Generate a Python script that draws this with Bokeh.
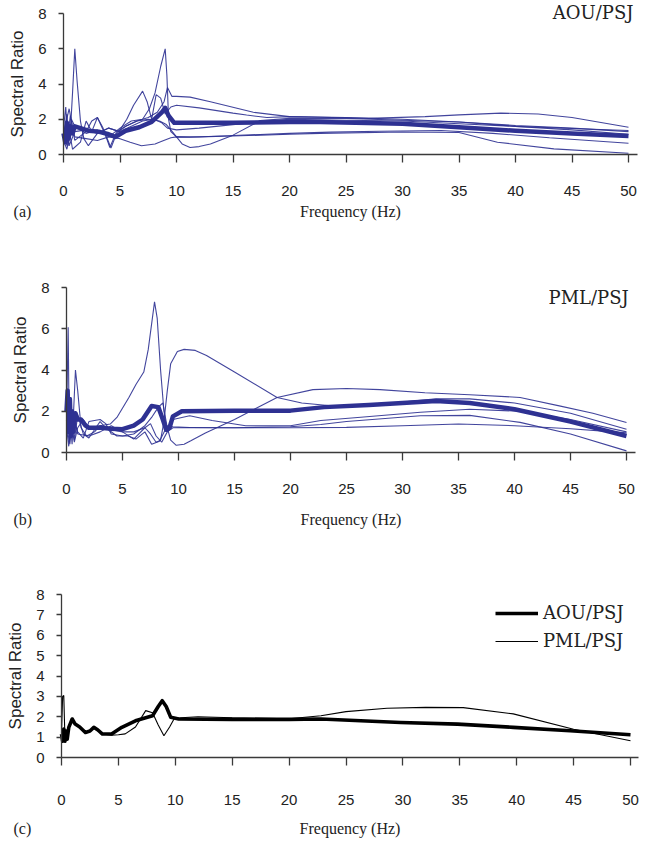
from bokeh.plotting import figure
from bokeh.layouts import column
from bokeh.models import Range1d, FixedTicker, Label, Legend, LegendItem
from bokeh.embed import file_html
from bokeh.resources import INLINE

# ---------------- data: panel (a) AOU/PSJ ----------------
a_mean_f = [0, 0.15, 0.3, 0.45, 0.6, 0.8, 1.0, 1.5, 2.2, 3.1, 4.0, 4.6, 5.5, 6.7, 7.8, 8.7, 9.0, 9.3, 9.8, 11, 15, 20, 22.7, 30, 35, 40, 45, 50]
a_mean_v = [1.2, 0.7, 1.8, 0.9, 1.6, 1.2, 1.6, 1.5, 1.35, 1.3, 1.15, 1.0, 1.35, 1.55, 1.85, 2.4, 2.65, 2.2, 1.8, 1.8, 1.8, 1.85, 1.84, 1.75, 1.55, 1.35, 1.2, 1.05]

a1_f = [0, 0.3, 0.6, 0.8, 1.0, 1.2, 1.5, 1.8, 2.2, 3.0, 4.0, 5.0, 6.0, 7.0, 8.0, 8.7, 9.2, 10, 12, 15, 18, 20, 25, 30, 35, 40, 45, 50]
a1_v = [0.8, 0.3, 1.2, 3.5, 6.0, 4.2, 1.9, 0.9, 0.5, 1.2, 1.5, 1.3, 1.6, 1.9, 2.0, 1.8, 1.5, 1.4, 1.5, 1.7, 1.9, 2.0, 1.95, 1.9, 1.75, 1.6, 1.48, 1.36]

a2_f = [0, 0.2, 0.4, 0.7, 1, 2, 3, 4, 5, 6, 7.0, 7.6, 8.1, 8.6, 9.0, 9.15, 9.3, 9.5, 10, 12, 15, 20, 22.7, 30, 35, 38.4, 43.4, 50]
a2_v = [1.5, 2.7, 0.5, 2.0, 1.6, 1.2, 1.4, 1.0, 1.5, 1.9, 2.0, 2.6, 3.5, 5.0, 6.0, 4.5, 2.0, 1.3, 1.0, 1.0, 1.05, 1.15, 1.2, 1.28, 1.25, 0.7, 0.32, 0.07]

a3_f = [0, 0.3, 0.5, 1, 2, 3, 4, 4.9, 5.6, 6.2, 7.0, 7.4, 7.8, 8.2, 8.6, 9.0, 9.5, 10, 12, 15, 16.2, 18, 20, 25, 30, 35, 40, 45, 50]
a3_v = [1.0, 2.3, 0.5, 1.3, 1.4, 1.2, 1.5, 1.3, 2.0, 2.8, 3.6, 3.0, 2.0, 3.4, 3.2, 2.3, 2.7, 2.8, 2.65, 2.35, 2.24, 2.1, 2.15, 2.1, 2.0, 1.85, 1.6, 1.4, 1.15]

a4_f = [0, 0.5, 1, 2, 2.5, 3, 3.5, 4.1, 4.7, 5.5, 6.5, 7.5, 8.3, 8.9, 9.2, 9.6, 10, 11.2, 13, 16.8, 20, 22.7, 27, 32, 35, 38.7, 42, 45, 50]
a4_v = [1.2, 2.6, 0.8, 1.3, 1.9, 2.1, 1.5, 0.4, 1.3, 1.6, 1.9, 2.1, 2.4, 3.0, 3.8, 3.3, 3.3, 3.26, 3.0, 2.4, 2.15, 2.12, 2.05, 2.15, 2.25, 2.35, 2.3, 2.1, 1.55]

a5_f = [0, 0.3, 0.6, 1, 2, 3, 4, 5, 5.9, 6.9, 8.1, 8.7, 9.5, 10, 11.2, 15, 20, 23.6, 28, 33.4, 38, 43, 50]
a5_v = [1.3, 0.5, 2.2, 1.0, 0.9, 0.8, 1.0, 0.9, 0.7, 0.5, 0.6, 0.75, 0.95, 1.0, 0.98, 1.08, 1.2, 1.27, 1.32, 1.36, 1.2, 0.95, 0.64]

a6_f = [0, 0.4, 0.8, 1.5, 2.0, 2.5, 3.0, 3.5, 3.9, 4.2, 4.7, 5.5, 6.5, 7.5, 8.5, 9.1, 9.5, 10, 10.5, 11.2, 12, 13, 15, 17.4, 20, 25, 30, 35, 40, 45, 50]
a6_v = [0.5, 1.8, 0.3, 0.7, 1.9, 1.3, 2.1, 1.4, 0.85, 0.37, 1.2, 1.6, 1.9, 2.0, 1.9, 1.7, 1.4, 1.0, 0.6, 0.4, 0.45, 0.6, 1.1, 1.93, 2.05, 2.05, 1.95, 1.85, 1.65, 1.5, 1.3]

# ---------------- data: panel (b) PML/PSJ ----------------
b_mean_f = [0, 0.1, 0.2, 0.3, 0.4, 0.5, 0.6, 0.8, 1.0, 1.3, 1.7, 2.0, 3.0, 4.0, 5.0, 6.0, 6.8, 7.6, 8.2, 8.6, 8.9, 9.2, 9.5, 10.3, 15, 20, 23, 27, 30, 33, 36, 40, 45, 50]
b_mean_v = [2.0, 3.0, 1.0, 2.6, 0.8, 2.0, 1.0, 1.9, 1.6, 1.6, 1.3, 1.2, 1.2, 1.15, 1.13, 1.3, 1.6, 2.25, 2.2, 1.6, 1.1, 1.2, 1.75, 2.0, 2.02, 2.03, 2.2, 2.3, 2.4, 2.5, 2.4, 2.1, 1.5, 0.8]

b1_f = [0, 0.2, 0.4, 0.7, 1, 1.5, 2, 3, 3.9, 4.5, 5.57, 6.2, 6.9, 7.3, 7.86, 8.1, 8.4, 8.7, 9.0, 9.5, 11, 15, 20, 22.7, 25, 31.6, 36, 40.5, 45, 50]
b1_v = [1.2, 0.3, 1.5, 0.5, 1.2, 1.6, 1.2, 1.3, 1.38, 1.7, 2.67, 3.3, 3.9, 5.0, 7.3, 6.5, 4.0, 2.0, 1.0, 1.2, 1.21, 1.2, 1.25, 1.36, 1.5, 1.78, 1.8, 1.46, 0.9, 0.08]

b2_f = [0, 0.15, 0.25, 0.5, 1, 1.5, 2, 3, 3.5, 4, 5, 6, 7, 7.6, 8.2, 8.6, 9.0, 9.3, 9.8, 10.5, 11.1, 12.4, 15, 18.8, 22, 25, 28, 32, 36, 40.5, 44, 47, 50]
b2_v = [1.5, 6.07, 0.5, 1.8, 1.0, 0.7, 1.5, 1.6, 1.4, 0.9, 0.8, 0.9, 1.3, 1.7, 2.2, 2.4, 1.2, 0.6, 0.35, 0.4, 0.57, 0.95, 1.6, 2.67, 3.05, 3.1, 3.05, 2.9, 2.8, 2.67, 2.26, 1.9, 1.45]

b3_f = [0, 0.3, 0.5, 0.8, 1.0, 1.3, 1.8, 2.5, 3, 4, 5, 6, 7, 7.5, 8, 8.4, 8.7, 9.0, 9.3, 9.9, 10.5, 11.5, 12.5, 15, 18.8, 21, 23.6, 27, 30, 33, 36, 40, 45, 50]
b3_v = [0.8, 1.8, 0.4, 4.0, 3.0, 1.2, 0.8, 1.0, 1.3, 1.1, 1.0, 1.0, 1.2, 0.9, 0.5, 0.6, 1.5, 3.0, 4.3, 4.9, 5.0, 4.95, 4.7, 3.9, 2.67, 2.4, 2.27, 2.3, 2.45, 2.6, 2.6, 2.4, 1.9, 1.13]

b4_f = [0, 0.3, 0.6, 1, 2, 3, 4, 5, 6, 7, 7.5, 8, 8.5, 9, 9.5, 11, 13, 16, 20, 22.7, 26, 31.6, 36, 40.5, 45, 50]
b4_v = [1.3, 0.4, 1.9, 0.9, 0.8, 1.0, 1.3, 1.0, 0.65, 1.2, 1.4, 0.8, 0.5, 1.0, 1.6, 1.78, 1.55, 1.3, 1.3, 1.55, 1.7, 1.95, 2.1, 2.0, 1.6, 1.0]

b5_f = [0, 0.4, 0.7, 1, 1.5, 2, 2.5, 3, 3.5, 4.5, 5.5, 6.2, 7, 7.6, 8.3, 9, 9.5, 11, 15, 20, 25, 30, 35, 40, 45, 50]
b5_v = [1.0, 2.4, 0.6, 1.8, 0.9, 0.7, 1.1, 1.5, 1.2, 0.8, 0.8, 0.65, 1.0, 0.4, 0.55, 1.3, 1.25, 1.21, 1.2, 1.2, 1.22, 1.3, 1.38, 1.3, 1.15, 0.95]

# ---------------- data: panel (c) averages ----------------
c_aou_f = [0, 0.1, 0.2, 0.3, 0.4, 0.5, 0.64, 0.94, 1.2, 1.6, 2.1, 2.5, 2.84, 3.2, 3.6, 4.4, 5.3, 6.5, 8.0, 8.5, 8.85, 9.2, 9.6, 10.3, 15, 20, 22.8, 29.8, 34.8, 39.7, 44.7, 50]
c_aou_v = [1.15, 0.8, 1.4, 0.8, 1.3, 0.9, 1.48, 1.89, 1.64, 1.5, 1.23, 1.3, 1.48, 1.35, 1.15, 1.15, 1.48, 1.8, 2.05, 2.5, 2.79, 2.5, 1.97, 1.89, 1.87, 1.87, 1.89, 1.72, 1.64, 1.48, 1.31, 1.12]

c_pml_f = [0, 0.1, 0.2, 0.3, 0.5, 0.8, 1.0, 1.5, 2.1, 2.84, 3.6, 4.4, 5.0, 5.6, 6.5, 7.4, 8.0, 8.5, 9.0, 9.5, 9.9, 10.5, 12, 15, 20, 22.8, 25, 28.6, 32, 35.3, 39.7, 45, 50]
c_pml_v = [1.2, 3.0, 3.04, 1.0, 1.3, 1.7, 1.8, 1.5, 1.2, 1.45, 1.15, 1.1, 1.12, 1.16, 1.5, 2.3, 2.2, 1.6, 1.07, 1.5, 1.9, 1.95, 2.0, 1.95, 1.9, 2.05, 2.25, 2.42, 2.46, 2.45, 2.14, 1.39, 0.82]

x_ticks = [0, 5, 10, 15, 20, 25, 30, 35, 40, 45, 50]
y_ticks_ab = [0, 2, 4, 6, 8]
y_ticks_c = [0, 1, 2, 3, 4, 5, 6, 7, 8]

BLUE = "#2E3192"
AXIS = "#3a3a3a"
TICK_FONT = "Liberation Sans"
SERIF = "Liberation Serif"
SLAB = "DejaVu Serif"


def base_fig(height, x0_px, px_per_hz, y0_px, px_per_unit, x_axis_end, y_ticks,
             tick_standoff, label_standoff):
    # the frame fills the whole canvas; axes sit at data 0 and are bounded
    x_start = -x0_px / px_per_hz
    x_end = (651 - x0_px) / px_per_hz
    y_start = -(height - y0_px) / px_per_unit
    y_end = y0_px / px_per_unit
    p = figure(width=651, height=height, x_range=Range1d(x_start, x_end),
               y_range=Range1d(y_start, y_end),
               output_backend="svg", toolbar_location=None,
               min_border=0, min_border_top=0, min_border_bottom=0,
               min_border_left=0, min_border_right=0)
    p.outline_line_color = None
    p.grid.visible = False
    p.background_fill_color = "white"
    p.xaxis.ticker = FixedTicker(ticks=x_ticks)
    p.yaxis.ticker = FixedTicker(ticks=y_ticks)
    p.xaxis.fixed_location = 0
    p.yaxis.fixed_location = 0
    p.xaxis.bounds = (0, x_axis_end)
    p.yaxis.bounds = (0, 8)
    for ax in (p.xaxis, p.yaxis):
        ax.axis_line_color = AXIS
        ax.axis_line_width = 1.3
        ax.major_tick_line_color = AXIS
        ax.major_tick_line_width = 1.3
        ax.major_tick_in = 0
        ax.minor_tick_line_color = None
        ax.major_label_text_font = TICK_FONT
        ax.major_label_text_font_size = "15px"
        ax.major_label_text_color = "#222222"
        ax.axis_label_text_font_style = "normal"
        ax.axis_label_text_color = "#222222"
    p.xaxis.major_tick_out = 8
    p.yaxis.major_tick_out = 5
    p.xaxis.major_label_standoff = tick_standoff
    p.yaxis.major_label_standoff = 12
    p.xaxis.axis_label = "Frequency (Hz)"
    p.xaxis.axis_label_text_font = SERIF
    p.xaxis.axis_label_text_font_size = "16px"
    p.xaxis.axis_label_standoff = label_standoff
    p.yaxis.axis_label = "Spectral Ratio"
    p.yaxis.axis_label_text_font = TICK_FONT
    p.yaxis.axis_label_text_font_size = "17px"
    p.yaxis.axis_label_standoff = 8
    return p


def tag(p, text, x, y):
    p.add_layout(Label(x=x, y=y, text=text, text_font=SERIF, text_font_size="16px",
                       text_align="left", text_baseline="middle", text_color="#222222"))


def station(p, text, x, y):
    p.add_layout(Label(x=x, y=y, text=text, text_font=SLAB, text_font_size="18px",
                       text_align="right", text_baseline="middle", text_color="#222222"))


# ---------------- panel (a) ----------------
pa = base_fig(267, 63, 11.3, 154, 17.6, 50.8, y_ticks_ab, 23, 4)
for f, v in [(a1_f, a1_v), (a2_f, a2_v), (a3_f, a3_v), (a4_f, a4_v), (a5_f, a5_v), (a6_f, a6_v)]:
    pa.line(f, v, line_color=BLUE, line_width=1.1, line_alpha=0.9)
pa.line(a_mean_f, a_mean_v, line_color=BLUE, line_width=4.5, line_join="round")
station(pa, "AOU/PSJ", 50.44, 8.04)
tag(pa, "(a)", -4.42, -3.24)

# ---------------- panel (b) ----------------
pb = base_fig(307, 66, 11.2, 185, 20.625, 50.8, y_ticks_ab, 23, 14)
for f, v in [(b1_f, b1_v), (b2_f, b2_v), (b3_f, b3_v), (b4_f, b4_v), (b5_f, b5_v)]:
    pb.line(f, v, line_color=BLUE, line_width=1.1, line_alpha=0.9)
pb.line(b_mean_f, b_mean_v, line_color=BLUE, line_width=4.5, line_join="round")
station(pb, "PML/PSJ", 50.2, 7.52)
tag(pb, "(b)", -4.73, -3.25)

# ---------------- panel (c) ----------------
pc = base_fig(269, 61, 11.38, 183, 20.375, 50.7, y_ticks_c, 29, 12)
r_pml = pc.line(c_pml_f, c_pml_v, line_color="black", line_width=1.1)
r_aou = pc.line(c_aou_f, c_aou_v, line_color="black", line_width=3.6, line_join="round")
tag(pc, "(c)", -4.22, -3.48)
legend = Legend(items=[LegendItem(label="AOU/PSJ", renderers=[r_aou]),
                       LegendItem(label="PML/PSJ", renderers=[r_pml])],
                location=(495, 192), border_line_color=None, background_fill_alpha=0,
                label_text_font=SLAB, label_text_font_size="18px", label_text_color="#222222",
                glyph_width=43, glyph_height=20, label_height=20, spacing=7,
                padding=0, margin=0, label_standoff=5)
pc.add_layout(legend)

layout = column(pa, pb, pc, spacing=0)
open("out.html", "w").write(file_html(layout, INLINE))
